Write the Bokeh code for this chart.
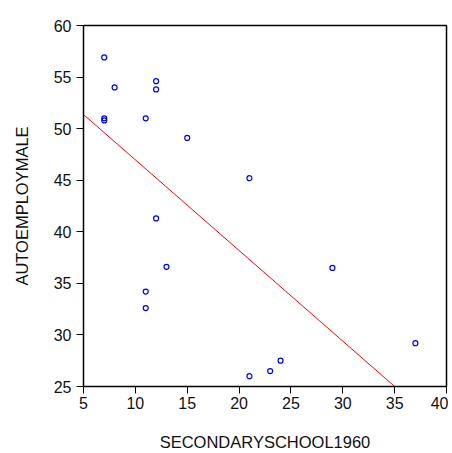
import numpy as np
from bokeh.plotting import figure
from bokeh.models import Range1d, FixedTicker
from bokeh.embed import file_html
from bokeh.resources import INLINE

secondary_school_1960 = [7, 8, 12, 12, 7, 7, 11, 15, 12, 13, 11, 11, 21, 29, 37, 24, 23, 21]
autoemploy_male = [56.9, 54.0, 54.6, 53.8, 51.0, 50.8, 51.0, 49.1, 41.3, 36.6, 34.2, 32.6,
                   45.2, 36.5, 29.2, 27.5, 26.5, 26.0]
x_ticks = [5, 10, 15, 20, 25, 30, 35, 40]
y_ticks = [25, 30, 35, 40, 45, 50, 55, 60]

p = figure(width=448, height=453, output_backend="svg", toolbar_location=None,
           x_range=Range1d(5, 40), y_range=Range1d(25, 60),
           min_border_left=83, min_border_right=2, min_border_top=25, min_border_bottom=60)
p.xgrid.visible = False
p.ygrid.visible = False
p.outline_line_color = "black"
p.outline_line_width = 1.5
p.outline_line_alpha = 1
p.background_fill_color = "white"
p.border_fill_color = "white"

for ax, ticks in ((p.xaxis[0], x_ticks), (p.yaxis[0], y_ticks)):
    ax.ticker = FixedTicker(ticks=ticks)
    ax.minor_tick_line_color = None
    ax.major_tick_in = 0
    ax.major_tick_out = 7
    ax.major_tick_line_color = "black"
    ax.axis_line_color = "black"
    ax.major_label_text_font = "Liberation Sans"
    ax.major_label_text_font_size = "16px"
    ax.major_label_text_color = "#111111"
    ax.axis_label_text_font = "Liberation Sans"
    ax.axis_label_text_font_size = "16.5px"
    ax.axis_label_text_font_style = "normal"
    ax.axis_label_text_color = "#111111"

p.xaxis.axis_label = "SECONDARYSCHOOL1960"
p.yaxis.axis_label = "AUTOEMPLOYMALE"
p.xaxis.axis_label_standoff = 21
p.yaxis.axis_label_standoff = 20
p.xaxis.major_label_standoff = 3
p.yaxis.major_label_standoff = 5

# OLS fit line
slope, intercept = np.polyfit(secondary_school_1960, autoemploy_male, 1)
lx = np.array([5.0, 40.0])
p.line(lx, intercept + slope * lx, line_color="red", line_width=1)

p.scatter(secondary_school_1960, autoemploy_male, marker="circle", size=5,
          fill_color=None, line_color="blue", line_width=1.2)

open("out.html", "w").write(file_html(p, INLINE))
